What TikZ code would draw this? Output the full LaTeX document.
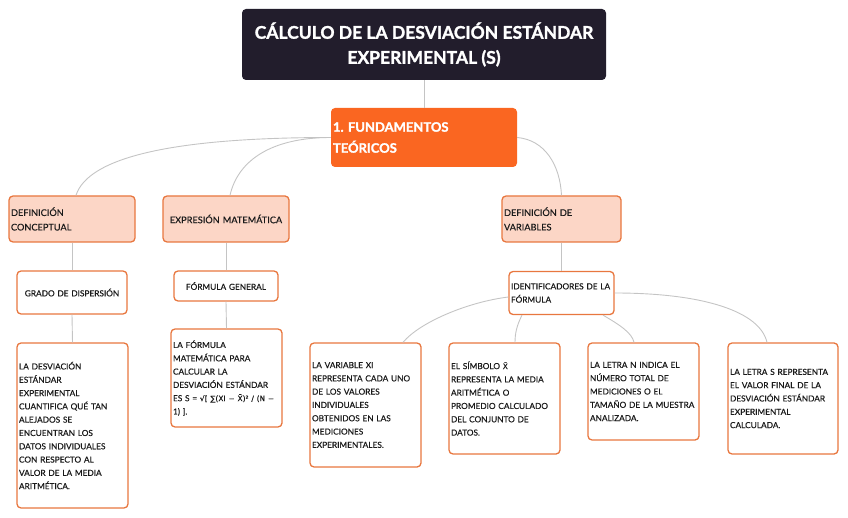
\documentclass[tikz,border=0pt]{standalone}
\usepackage{fontspec}
\setmainfont{Lato}[UprightFeatures={FakeBold=0.35},BoldFeatures={FakeBold=1.5}]
\newfontfamily\symfont{DejaVu Sans}[FakeBold=0.2]
\usetikzlibrary{calc}
\definecolor{boxor}{HTML}{E8773F}
\definecolor{peach}{HTML}{FCD6C6}
\definecolor{titlebg}{HTML}{221D2C}
\definecolor{fundbg}{HTML}{FA6621}
\definecolor{conncol}{HTML}{C4C4C4}
\definecolor{txt}{HTML}{1A1A1A}
\frenchspacing
\begin{document}
\begin{tikzpicture}[x=1pt,y=-1pt,
  basebox/.style={rectangle, rounded corners=4pt, inner xsep=2pt, inner ysep=0pt, text=txt,
    font=\fontsize{8.3}{13.3}\selectfont},
  leaf/.style={basebox, draw=boxor, line width=1.3pt, fill=white, align=left},
  mid/.style={basebox, draw=boxor, line width=1.3pt, fill=white},
  cat/.style={basebox, draw=boxor, line width=1.3pt, fill=peach,
    font=\fontsize{9.2}{14.5}\selectfont},
  conn/.style={draw=conncol, line width=0.9pt}]
\useasboundingbox (0,0) rectangle (848,518);

% title and main topic
\node[rectangle, rounded corners=4pt, fill=titlebg, text=white, align=center,
  minimum width=364pt, minimum height=71pt, inner sep=0pt,
  font=\fontsize{17.5}{25}\selectfont\bfseries] (title) at (424,44.5)
  {CÁLCULO DE LA DESVIACIÓN ESTÁNDAR\\EXPERIMENTAL (S)};
\node[rectangle, rounded corners=4pt, fill=fundbg, text=white, align=left,
  minimum width=186pt, minimum height=59pt, inner xsep=2pt, inner ysep=0pt, text width=182pt,
  font=\fontsize{13}{21}\selectfont\bfseries] (fund) at (424,137.5)
  {1. FUNDAMENTOS\\TEÓRICOS};

% categories
\node[cat, align=left, minimum width=126pt, minimum height=46pt, text width=122pt] (dc) at (72,219)
  {DEFINICIÓN\\CONCEPTUAL};
\node[cat, align=center, minimum width=126pt, minimum height=46pt, text width=122pt] (em) at (226,219)
  {EXPRESIÓN MATEMÁTICA};
\node[cat, align=left, minimum width=119pt, minimum height=46pt, text width=115pt] (dv) at (561.5,219)
  {DEFINICIÓN DE\\VARIABLES};

% middle level
\node[mid, align=center, minimum width=110pt, minimum height=43pt, text width=106pt] (gd) at (72,292.5)
  {GRADO DE DISPERSIÓN};
\node[mid, align=center, minimum width=104pt, minimum height=30pt, text width=100pt] (fg) at (226,286)
  {FÓRMULA GENERAL};
\node[mid, align=left, minimum width=105pt, minimum height=43pt, text width=101pt] (id) at (561.5,293)
  {IDENTIFICADORES DE LA\\FÓRMULA};

% leaves
\node[leaf, minimum width=111pt, minimum height=165pt, text width=107pt] (l1) at (72.5,425.5)
  {LA DESVIACIÓN\\ESTÁNDAR\\EXPERIMENTAL\\CUANTIFICA QUÉ TAN\\ALEJADOS SE\\ENCUENTRAN LOS\\DATOS INDIVIDUALES\\CON RESPECTO AL\\VALOR DE LA MEDIA\\ARITMÉTICA.};
\node[leaf, minimum width=111pt, minimum height=98pt, text width=107pt] (l2) at (226.5,378)
  {LA FÓRMULA\\MATEMÁTICA PARA\\CALCULAR LA\\DESVIACIÓN ESTÁNDAR\\ES S = {\symfont\fontsize{7.5}{13.3}\selectfont √[ ∑(XI − X̄)² / (N −}\\1) ].};
\node[leaf, minimum width=111pt, minimum height=124pt, text width=107pt] (l3) at (365.5,405)
  {LA VARIABLE XI\\REPRESENTA CADA UNO\\DE LOS VALORES\\INDIVIDUALES\\OBTENIDOS EN LAS\\MEDICIONES\\EXPERIMENTALES.};
\node[leaf, minimum width=111pt, minimum height=111pt, text width=107pt] (l4) at (504.5,398.5)
  {EL SÍMBOLO {\symfont\fontsize{7.5}{13.3}\selectfont X̄}\\REPRESENTA LA MEDIA\\ARITMÉTICA O\\PROMEDIO CALCULADO\\DEL CONJUNTO DE\\DATOS.};
\node[leaf, minimum width=111pt, minimum height=97pt, text width=107pt] (l5) at (643.5,391.5)
  {LA LETRA N INDICA EL\\NÚMERO TOTAL DE\\MEDICIONES O EL\\TAMAÑO DE LA MUESTRA\\ANALIZADA.};
\node[leaf, minimum width=110pt, minimum height=111pt, text width=106pt] (l6) at (783,398.5)
  {LA LETRA S REPRESENTA\\EL VALOR FINAL DE LA\\DESVIACIÓN ESTÁNDAR\\EXPERIMENTAL\\CALCULADA.};

% connectors
\draw[conn] (title.south) -- (fund.north);
\draw[conn] (fund.west) .. controls (170,137.5) and (88,158) .. ($(dc.north)+(4,0)$);
\draw[conn] (fund.west) .. controls (272,137.5) and (238,160) .. ($(em.north)+(4,0)$);
\draw[conn] (fund.east) .. controls (545,140) and (560,165) .. (dv.north);
\draw[conn] (dc.south) -- (gd.north);
\draw[conn] (gd.south) -- (l1.north);
\draw[conn] (em.south) -- (fg.north);
\draw[conn] (fg.south) -- (l2.north);
\draw[conn] (dv.south) -- (id.north);
\draw[conn] ($(id.west)+(0,4)$) .. controls (468,302) and (420,322) .. ($(l3.north)+(37.5,0)$);
\draw[conn] ($(id.south)+(-39.5,0)$) .. controls (517,325) and (515,333) .. ($(l4.north)+(10.5,0)$);
\draw[conn] ($(id.south)+(41.5,0)$) .. controls (620,325) and (632,333) .. ($(l5.north)+(-9.5,0)$);
\draw[conn] (id.east) .. controls (705,293) and (760,312) .. ($(l6.north)+(-16,0)$);
\end{tikzpicture}
\end{document}
